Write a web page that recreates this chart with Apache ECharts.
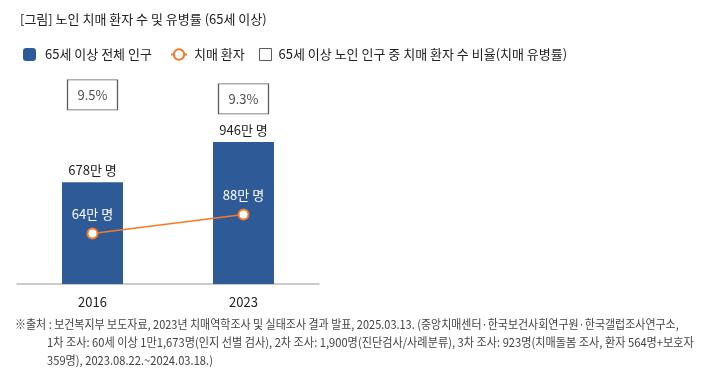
<!DOCTYPE html>
<html>
<head>
<meta charset="utf-8">
<script src="https://cdn.jsdelivr.net/npm/echarts@6/dist/echarts.min.js"></script>
<style>
html,body{margin:0;padding:0;background:#fff;}
#c{width:719px;height:374px;}
</style>
</head>
<body>
<div id="c"></div>
<script>
const categories = ['2016', '2023'];
const populationValues = [678, 946];       // 65세 이상 전체 인구 (만 명)
const patientValues = [64, 88];            // 치매 환자 (만 명)
const prevalenceValues = [9.5, 9.3];       // 치매 유병률 (%)
const seriesNames = ['65세 이상 전체 인구', '치매 환자', '65세 이상 노인 인구 중 치매 환자 수 비율(치매 유병률)'];
const titleText = '[그림] 노인 치매 환자 수 및 유병률 (65세 이상)';
const footLines = [
  '※출처 : 보건복지부 보도자료, 2023년 치매역학조사 및 실태조사 결과 발표, 2025.03.13. (중앙치매센터·한국보건사회연구원·한국갤럽조사연구소,',
  '1차 조사: 60세 이상 1만1,673명(인지 선별 검사), 2차 조사: 1,900명(진단검사/사례분류), 3차 조사: 923명(치매돌봄 조사, 환자 564명+보호자',
  '359명), 2023.08.22.~2024.03.18.)'
];

const FONT = '"Noto Sans CJK KR", "Noto Sans", sans-serif';
const BLUE = '#2e5b98';
const ORANGE = '#f47a2a';

const chart = echarts.init(document.getElementById('c'), null, {renderer: 'canvas'});

const footGraphics = footLines.map((t, i) => ({
  type: 'text',
  left: i === 0 ? 15 : 47,
  top: 318 + i * 18,
  scaleX: i === 0 ? 0.915 : 0.93,
  originX: 0,
  style: { text: t, font: '12px ' + FONT, fill: '#444' }
}));

const legendBase = {
  top: 43,
  itemHeight: 13,
  textStyle: { fontFamily: FONT, fontSize: 13, color: '#222' },
  selectedMode: false
};

chart.setOption({
  animation: false,
  textStyle: { fontFamily: FONT },
  title: {
    text: titleText,
    left: 15,
    top: 8,
    textStyle: { fontFamily: FONT, fontSize: 13, fontWeight: 'normal', color: '#222' }
  },
  legend: [
    Object.assign({}, legendBase, {
      left: 18, itemWidth: 13, data: [seriesNames[0]],
      textStyle: Object.assign({}, legendBase.textStyle, { padding: [0, 0, 0, 4] })
    }),
    Object.assign({}, legendBase, {
      left: 165, itemWidth: 16, data: [seriesNames[1]],
      textStyle: Object.assign({}, legendBase.textStyle, { padding: [0, 0, 0, 2] })
    }),
    Object.assign({}, legendBase, {
      left: 254, itemWidth: 12, itemHeight: 12, data: [seriesNames[2]],
      itemStyle: { color: '#fff', borderColor: '#333', borderWidth: 1 },
      textStyle: Object.assign({}, legendBase.textStyle, { padding: [0, 0, 0, 2] })
    })
  ],
  grid: { left: 17, right: 400, top: 59, bottom: 90 },
  xAxis: {
    type: 'category',
    data: categories,
    axisTick: { show: false },
    axisLine: { lineStyle: { color: '#bbb', width: 1.5 } },
    axisLabel: { color: '#222', fontSize: 13, margin: 12, fontFamily: FONT }
  },
  yAxis: [
    { type: 'value', min: 0, max: 1500, show: false },
    { type: 'value', min: 0, max: 285, show: false },
    { type: 'value', min: 0, max: 11.3, show: false }
  ],
  series: [
    {
      name: seriesNames[0],
      type: 'bar',
      data: populationValues,
      barWidth: 61,
      itemStyle: { color: BLUE },
      label: {
        show: true, position: 'top', distance: 6,
        formatter: p => p.value + '만 명',
        color: '#222', fontSize: 13, fontFamily: FONT
      }
    },
    {
      name: seriesNames[1],
      type: 'line',
      yAxisIndex: 1,
      data: patientValues,
      symbol: 'circle',
      symbolSize: 10,
      lineStyle: { color: ORANGE, width: 1.5 },
      itemStyle: { color: '#fff', borderColor: ORANGE, borderWidth: 2 },
      label: {
        show: true, position: 'top', distance: 7,
        formatter: p => p.value + '만 명',
        color: '#fff', fontSize: 13, fontFamily: FONT
      },
      z: 5
    },
    {
      name: seriesNames[2],
      type: 'scatter',
      yAxisIndex: 2,
      data: prevalenceValues,
      symbol: 'rect',
      symbolSize: [50, 30],
      itemStyle: { color: '#fff', borderColor: '#333', borderWidth: 1 },
      label: {
        show: true, position: 'inside',
        formatter: p => p.value + '%',
        color: '#222', fontSize: 13, fontFamily: FONT
      }
    }
  ],
  graphic: footGraphics
});
</script>
</body>
</html>
